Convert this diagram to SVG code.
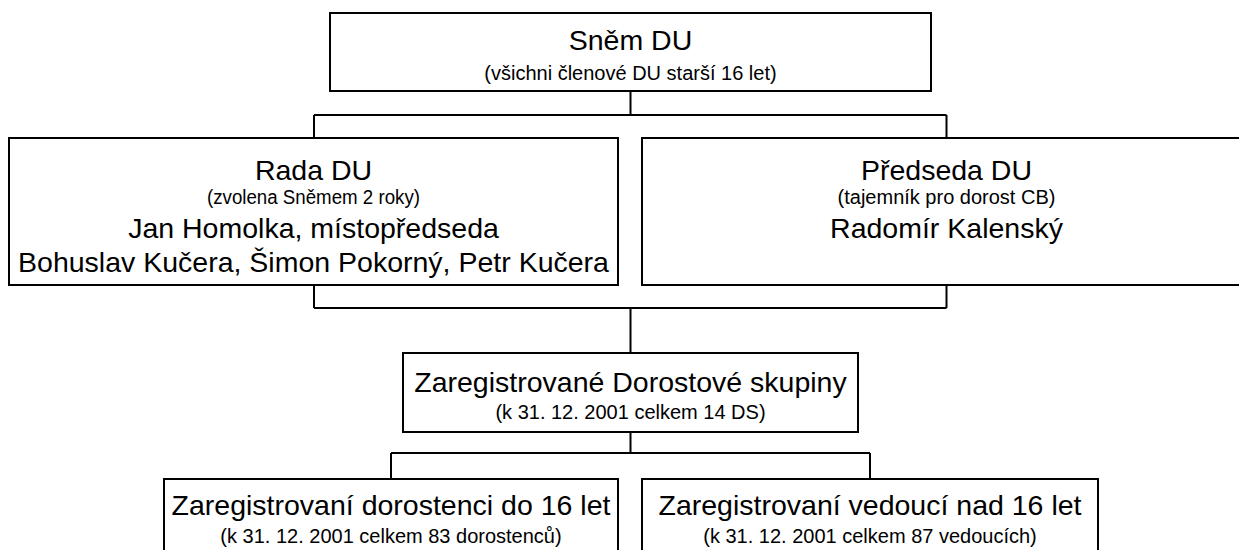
<svg xmlns="http://www.w3.org/2000/svg" width="1239" height="550" viewBox="0 0 1239 550">
<style>
.box{fill:#fff;stroke:#000;stroke-width:2}
.ln{fill:none;stroke:#000;stroke-width:2}
text{font-family:"Liberation Sans",Arial,sans-serif;fill:#000;text-anchor:middle}
.t{font-size:28.5px}
.s{font-size:20px}
</style>
<rect width="1239" height="550" fill="#fff"/>
<g id="connectors">
<path class="ln" d="M630.5 91V115M314 115H946.5M314 115V138M946.5 115V138"/>
<path class="ln" d="M314 285V308M946.5 285V308M314 308H946.5M630.5 308V353"/>
<path class="ln" d="M630.5 432V453M391 453H870M391 453V479M870 453V479"/>
</g>
<g id="snem">
<rect class="box" x="330" y="13" width="601" height="78"/>
<text class="t" x="630.5" y="50">Sněm DU</text>
<text class="s" x="630.5" y="80">(všichni členové DU starší 16 let)</text>
</g>
<g id="rada">
<rect class="box" x="9" y="138" width="609" height="147"/>
<text class="t" x="313.5" y="180">Rada DU</text>
<text class="s" x="313.5" y="204" textLength="213" lengthAdjust="spacingAndGlyphs">(zvolena Sněmem 2 roky)</text>
<text class="t" x="313.5" y="238">Jan Homolka, místopředseda</text>
<text class="t" x="313.5" y="272">Bohuslav Kučera, Šimon Pokorný, Petr Kučera</text>
</g>
<g id="predseda">
<rect class="box" x="642" y="138" width="609" height="147"/>
<text class="t" x="946.5" y="180">Předseda DU</text>
<text class="s" x="946.5" y="204">(tajemník pro dorost CB)</text>
<text class="t" x="946.5" y="238">Radomír Kalenský</text>
</g>
<g id="skupiny">
<rect class="box" x="403" y="353" width="455" height="79"/>
<text class="t" x="630.5" y="392">Zaregistrované Dorostové skupiny</text>
<text class="s" x="630.5" y="419">(k 31. 12. 2001 celkem 14 DS)</text>
</g>
<g id="dorostenci">
<rect class="box" x="164" y="479" width="454" height="90"/>
<text class="t" x="391" y="515">Zaregistrovaní dorostenci do 16 let</text>
<text class="s" x="391" y="543">(k 31. 12. 2001 celkem 83 dorostenců)</text>
</g>
<g id="vedouci">
<rect class="box" x="642" y="479" width="456" height="90"/>
<text class="t" x="870" y="515">Zaregistrovaní vedoucí nad 16 let</text>
<text class="s" x="870" y="543">(k 31. 12. 2001 celkem 87 vedoucích)</text>
</g>
</svg>
